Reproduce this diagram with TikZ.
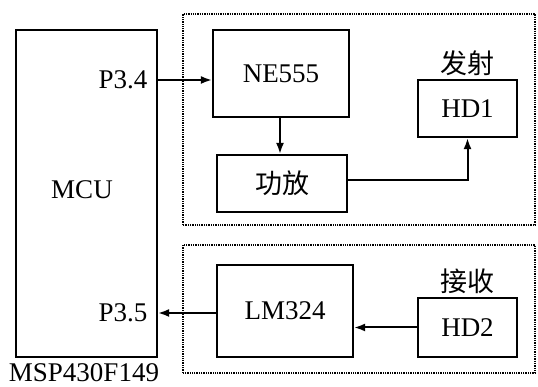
\documentclass[tikz,border=0pt]{standalone}
\usepackage{fontspec}
\setmainfont{Liberation Serif}
\newfontfamily\cjk{Noto Sans CJK SC}
\usetikzlibrary{arrows.meta,positioning}
\tikzset{
  >={Latex[length=11pt,width=8pt]},
  every node/.style={font=\rmfamily\fontsize{27}{29}\selectfont},
  blk/.style={draw, line width=2.2pt, inner sep=0pt},
  grp/.style={draw, line width=1.8pt, dash pattern=on 1.3pt off 1pt},
  wire/.style={line width=2pt},
}

\begin{document}
\begin{tikzpicture}[x=1pt, y=1pt]
    \useasboundingbox (0,0) rectangle (538,387);
    % groups
    \draw[grp] (183,162) rectangle (535,373);
    \draw[grp] (183,14) rectangle (535,142);
    % blocks
    \node[blk, minimum width=141pt, minimum height=327pt] (MCU) at (86.5,193.5) {};
    \node at (82,197) {MCU};
    \node[anchor=east] (P34) at (151,307) {P3.4};
    \node[anchor=east] (P35) at (151,74) {P3.5};
    \node (MSP) at (84,14) {MSP430F149};
    \node[blk, minimum width=136pt, minimum height=87pt] (NE) at (281,313.5) {NE555};
    \node[blk, minimum width=130pt, minimum height=57pt] (PA) at (282,203.5) {\cjk 功放};
    \node[blk, minimum width=99pt, minimum height=57pt] (HD1) at (467.5,278.5) {HD1};
    \node[above=0pt of HD1] (TX) {\cjk 发射};
    \node[blk, minimum width=136pt, minimum height=92pt] (LM) at (285,76) {LM324};
    \node[blk, minimum width=99pt, minimum height=59pt] (HD2) at (467.5,59.5) {HD2};
    \node[above=0pt of HD2] (RX) {\cjk 接收};
    % connections
    \draw[wire, ->] (MCU.east |- P34) -- (NE.west |- P34);
    \draw[wire, ->] (NE.south -| PA) ++(-2,0) coordinate (nes) -- (nes |- PA.north);
    \draw[wire, ->] (PA.east |- 0,207) -| (HD1.south);
    \draw[wire, ->] (LM.west |- P35) -- (MCU.east |- P35);
    \draw[wire, ->] (HD2.west) -- (LM.east |- HD2.west);
\end{tikzpicture}
\end{document}
